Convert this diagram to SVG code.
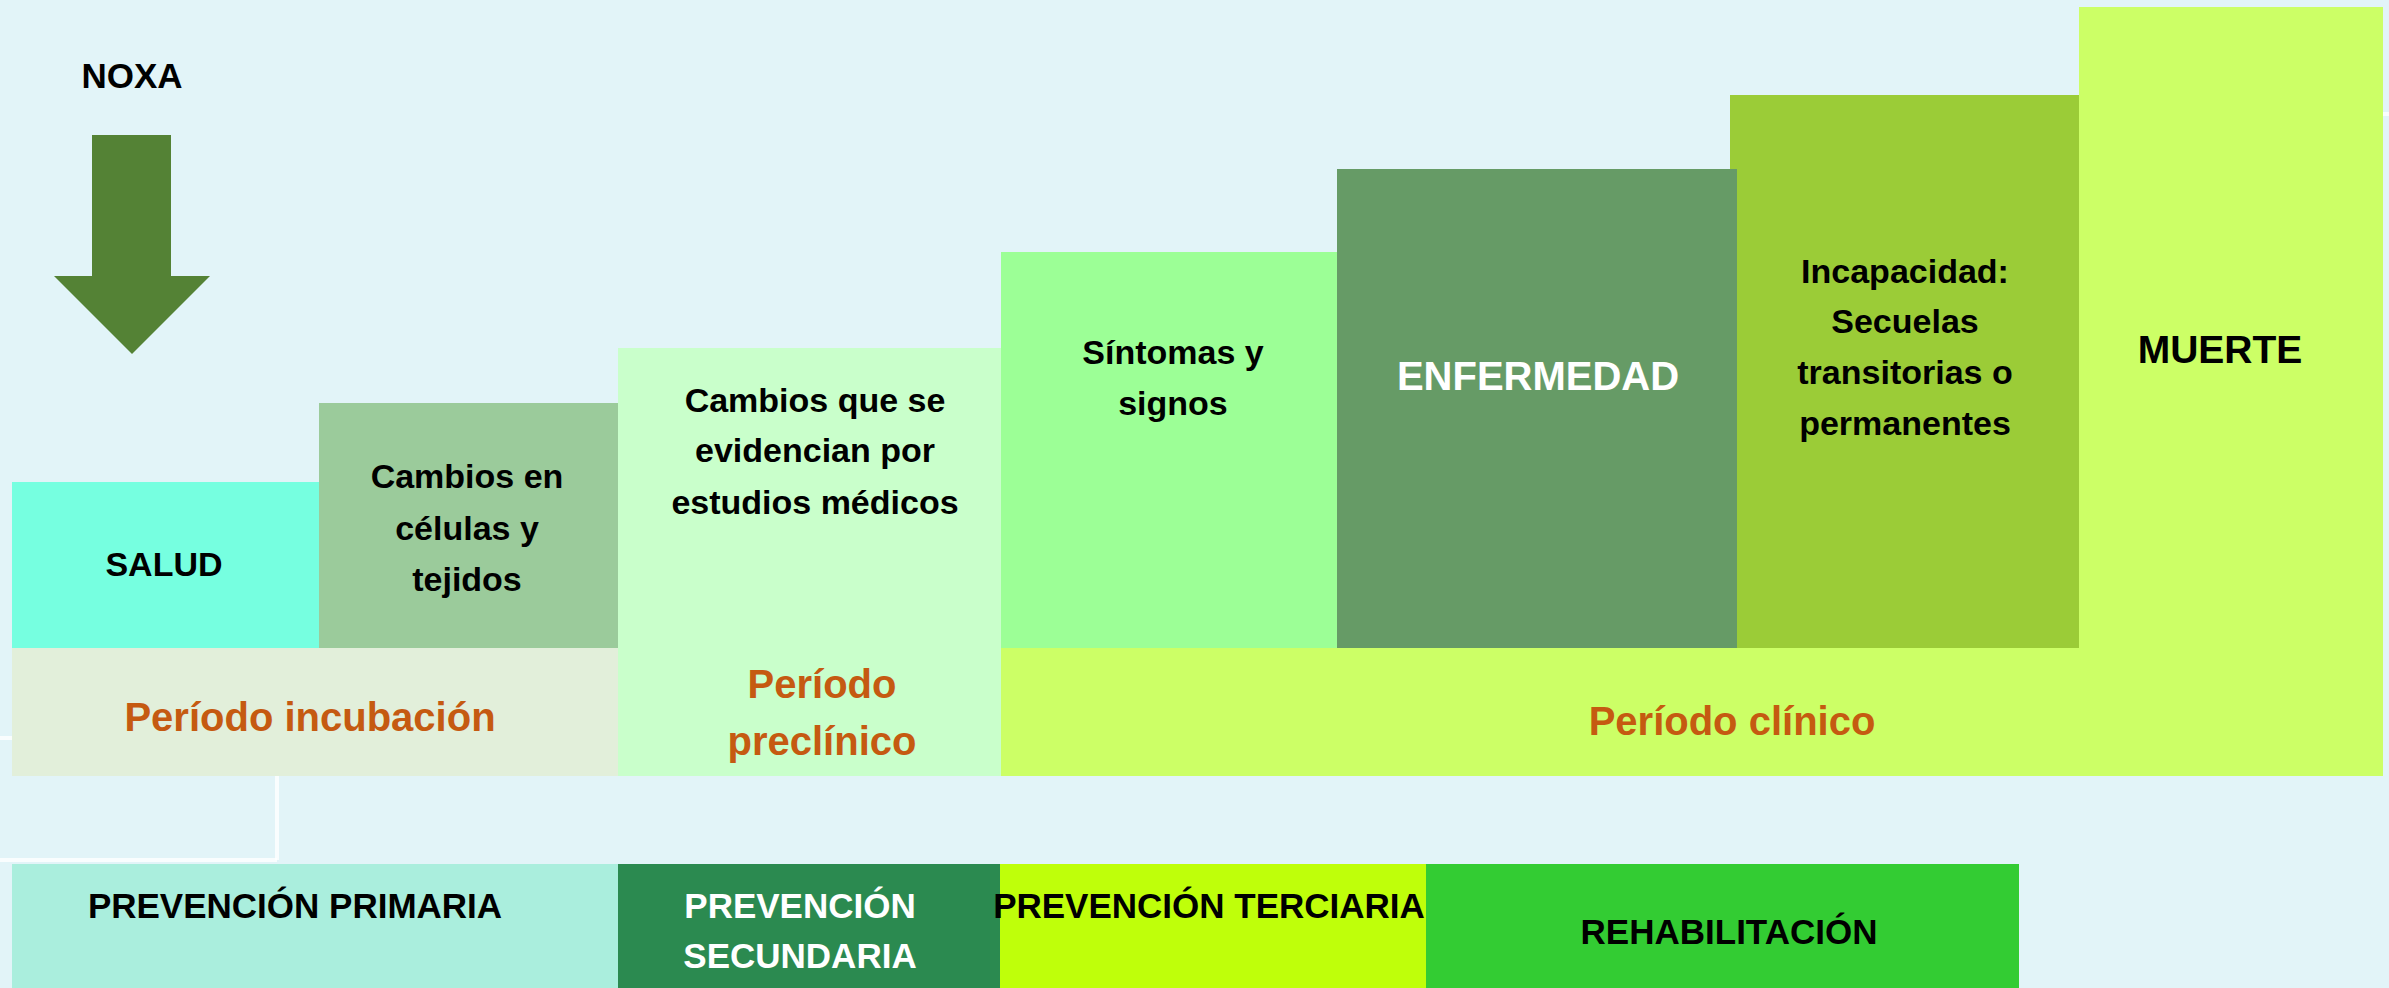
<svg xmlns="http://www.w3.org/2000/svg" width="2389" height="988" viewBox="0 0 2389 988">
<style>
text{font-family:"Liberation Sans",Arial,sans-serif;font-weight:bold;text-anchor:middle}
.b{font-size:34px;fill:#000}
.p{font-size:40px;fill:#C55A11}
.v{font-size:35px;fill:#000}
text.w{fill:#fff}
.ln{stroke:#fff;stroke-width:4;fill:none;opacity:0.8}
</style>
<rect width="2389" height="988" fill="#E2F4F8"/>
<g id="connectors">
<line class="ln" x1="0" y1="738" x2="12" y2="738"/>
<line class="ln" x1="277" y1="776" x2="277" y2="860"/>
<line class="ln" x1="0" y1="860" x2="277" y2="860"/>
<line class="ln" x1="2383" y1="114" x2="2389" y2="114"/>
</g>
<g id="noxa">
<text x="132" y="88" style="font-size:35px">NOXA</text>
<polygon points="92,135 171,135 171,276 210,276 132,354 54,276 92,276" fill="#548235"/>
</g>
<g id="salud">
<rect x="12" y="482" width="307" height="166" fill="#76FFE0"/>
<text class="b" x="164" y="576">SALUD</text>
</g>
<g id="cambios-celulas">
<rect x="319" y="403" width="299" height="245" fill="#9BCB9B"/>
<text class="b" x="467" y="488">Cambios en</text>
<text class="b" x="467" y="540">células y</text>
<text class="b" x="467" y="591">tejidos</text>
</g>
<g id="cambios-estudios">
<rect x="618" y="348" width="383" height="428" fill="#C9FFCB"/>
<text class="b" x="815" y="412">Cambios que se</text>
<text class="b" x="815" y="462">evidencian por</text>
<text class="b" x="815" y="514">estudios médicos</text>
</g>
<g id="sintomas">
<rect x="1001" y="252" width="336" height="396" fill="#9CFF96"/>
<text class="b" x="1173" y="364">Síntomas y</text>
<text class="b" x="1173" y="415">signos</text>
</g>
<g id="incapacidad">
<rect x="1730" y="95" width="351" height="553" fill="#9BCC37"/>
<text class="b" x="1905" y="283">Incapacidad:</text>
<text class="b" x="1905" y="333">Secuelas</text>
<text class="b" x="1905" y="384">transitorias o</text>
<text class="b" x="1905" y="435">permanentes</text>
</g>
<g id="enfermedad">
<rect x="1337" y="169" width="400" height="479" fill="#669B66"/>
<text class="w" x="1538" y="390" style="font-size:40px">ENFERMEDAD</text>
</g>
<g id="muerte">
<rect x="2079" y="7" width="304" height="641" fill="#CCFF66"/>
<text x="2220" y="363" style="font-size:39px">MUERTE</text>
</g>
<g id="periodo-incubacion">
<rect x="12" y="648" width="606" height="128" fill="#E2EFDA"/>
<text class="p" x="310" y="731">Período incubación</text>
</g>
<g id="periodo-preclinico">
<text class="p" x="822" y="698">Período</text>
<text class="p" x="822" y="755">preclínico</text>
</g>
<g id="periodo-clinico">
<rect x="1001" y="648" width="1382" height="128" fill="#CCFF66"/>
<text class="p" x="1732" y="735">Período clínico</text>
</g>
<g id="prevencion-primaria">
<rect x="12" y="864" width="606" height="124" fill="#AAEEDD"/>
<text class="v" x="295" y="918">PREVENCIÓN PRIMARIA</text>
</g>
<g id="prevencion-secundaria">
<rect x="618" y="864" width="382" height="124" fill="#2B8A50"/>
<text class="v w" x="800" y="918">PREVENCIÓN</text>
<text class="v w" x="800" y="968">SECUNDARIA</text>
</g>
<g id="prevencion-terciaria">
<rect x="1000" y="864" width="426" height="124" fill="#BFFF0A"/>
<text class="v" x="1209" y="918">PREVENCIÓN TERCIARIA</text>
</g>
<g id="rehabilitacion">
<rect x="1426" y="864" width="593" height="124" fill="#33CC33"/>
<text class="v" x="1729" y="944">REHABILITACIÓN</text>
</g>
</svg>
